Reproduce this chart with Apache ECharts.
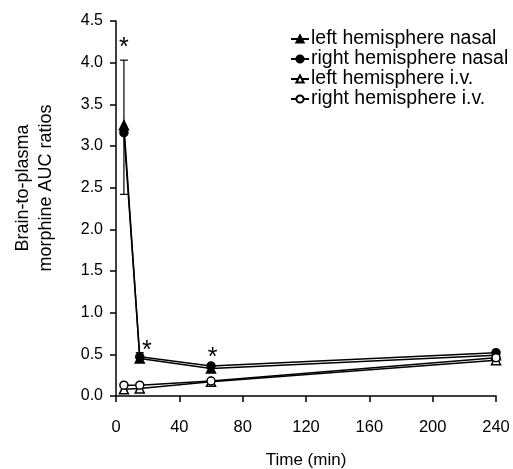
<!DOCTYPE html>
<html>
<head>
<meta charset="utf-8">
<script src="https://cdn.jsdelivr.net/npm/echarts@6/dist/echarts.min.js"></script>
<style>
html, body { margin: 0; padding: 0; background: #fff; }
#chart { width: 513px; height: 469px; }
</style>
</head>
<body>
<div id="chart"></div>
<script>
// time points (min)
var times = [5, 15, 60, 240];
// brain-to-plasma AUC ratios
var leftNasal = [3.25, 0.45, 0.33, 0.49];
var rightNasal = [3.16, 0.47, 0.36, 0.52];
var leftIv = [0.08, 0.09, 0.17, 0.43];
var rightIv = [0.13, 0.13, 0.18, 0.46];
// error bars [time, low, high]
var errBars = [[5, 2.42, 4.03], [15, 0.41, 0.52], [60, 0.30, 0.38]];
// significance marks [time, ratio]
var stars = [[5, 4.17], [19.5, 0.54], [61, 0.46]];

var names = ['left hemisphere nasal', 'right hemisphere nasal', 'left hemisphere i.v.', 'right hemisphere i.v.'];

function pairs(vals) {
    return times.map(function (t, i) { return [t, vals[i]]; });
}

var font = 'Liberation Sans, Arial, sans-serif';
var chart = echarts.init(document.getElementById('chart'));

function lineSeries(name, vals, symbol, filled) {
    return {
        name: name,
        type: 'line',
        data: pairs(vals),
        symbol: symbol,
        symbolSize: symbol === 'triangle' ? 9 : 8,
        lineStyle: { color: '#000', width: 1.5 },
        itemStyle: { color: filled ? '#000' : '#fff', borderColor: '#000', borderWidth: 1.5 },
        z: 3
    };
}

var option = {
    animation: false,
    grid: { left: 116, right: 17, top: 21, bottom: 73, containLabel: false, outerBoundsMode: 'none' },
    legend: {
        orient: 'vertical',
        left: 285,
        top: 24,
        itemWidth: 18,
        itemHeight: 9,
        itemGap: 0,
        textStyle: { fontFamily: font, fontSize: 19.5, color: '#000', lineHeight: 20, padding: [0, 0, 0, -3] },
        data: names
    },
    xAxis: {
        type: 'value',
        min: 0, max: 240, interval: 40,
        name: 'Time (min)',
        nameLocation: 'middle',
        nameGap: 56,
        nameTextStyle: { fontFamily: font, fontSize: 17, color: '#000' },
        axisLine: { lineStyle: { color: '#000', width: 1.5 } },
        axisTick: { length: 6, lineStyle: { color: '#000', width: 1.5 } },
        axisLabel: { fontFamily: font, fontSize: 16.5, color: '#000', margin: 23 },
        splitLine: { show: false }
    },
    yAxis: {
        type: 'value',
        min: 0, max: 4.5, interval: 0.5,
        axisLine: { show: true, lineStyle: { color: '#000', width: 1.5 } },
        axisTick: { show: true, length: 6, lineStyle: { color: '#000', width: 1.5 } },
        axisLabel: {
            fontFamily: font, fontSize: 16, color: '#000', margin: 13,
            formatter: function (v) { return v.toFixed(1); }
        },
        splitLine: { show: false }
    },
    graphic: [{
        type: 'text',
        x: 35, y: 188,
        rotation: Math.PI / 2,
        style: {
            text: 'Brain-to-plasma\nmorphine AUC ratios',
            font: '18px ' + font,
            fill: '#000',
            align: 'center',
            verticalAlign: 'middle',
            lineHeight: 23
        }
    }],
    series: [
        lineSeries(names[0], leftNasal, 'triangle', true),
        lineSeries(names[1], rightNasal, 'circle', true),
        lineSeries(names[2], leftIv, 'triangle', false),
        lineSeries(names[3], rightIv, 'circle', false),
        {
            type: 'custom',
            data: errBars,
            z: 2,
            renderItem: function (params, api) {
                var top = api.coord([api.value(0), api.value(2)]);
                var bot = api.coord([api.value(0), api.value(1)]);
                var w = 4;
                var st = { stroke: '#000', lineWidth: 1.2 };
                return {
                    type: 'group',
                    children: [
                        { type: 'line', shape: { x1: top[0], y1: top[1], x2: bot[0], y2: bot[1] }, style: st },
                        { type: 'line', shape: { x1: top[0] - w, y1: top[1], x2: top[0] + w, y2: top[1] }, style: st },
                        { type: 'line', shape: { x1: bot[0] - w, y1: bot[1], x2: bot[0] + w, y2: bot[1] }, style: st }
                    ]
                };
            }
        },
        {
            type: 'custom',
            data: stars,
            renderItem: function (params, api) {
                var p = api.coord([api.value(0), api.value(1)]);
                return {
                    type: 'text',
                    x: p[0], y: p[1],
                    style: { text: '*', font: '25px ' + font, fill: '#000', align: 'center', verticalAlign: 'middle' }
                };
            }
        }
    ]
};

chart.setOption(option);
</script>
</body>
</html>
